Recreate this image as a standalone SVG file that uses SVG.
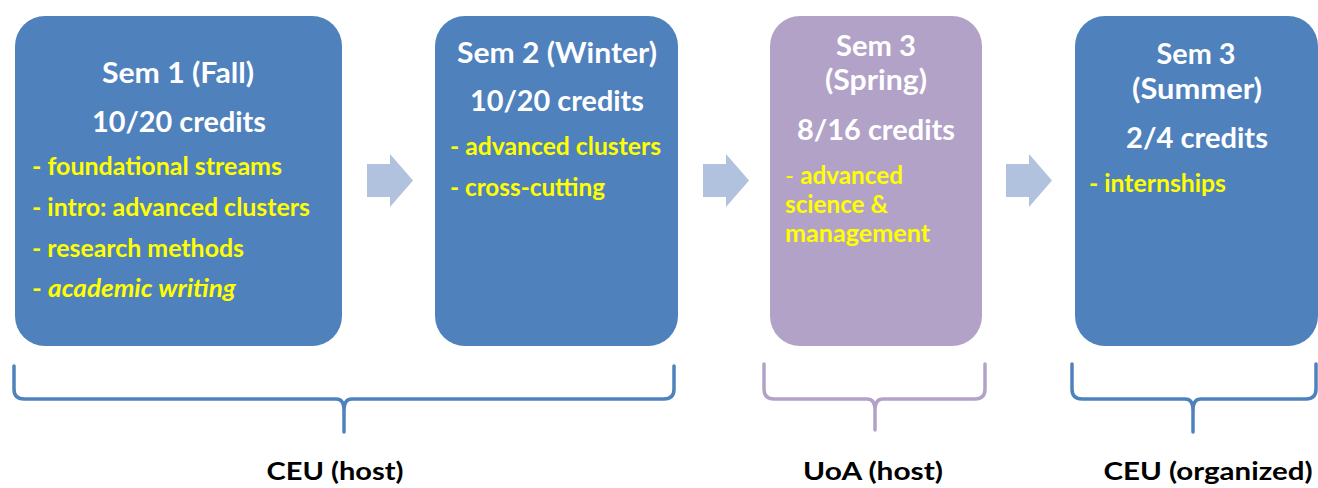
<svg xmlns="http://www.w3.org/2000/svg" width="1318" height="488" viewBox="0 0 1318 488">
<defs>
<style>
.box{fill:#4F81BD}
.boxp{fill:#B3A2C7}
.arr{fill:#B0C2DE}
text{font-family:Lato,"Open Sans","Liberation Sans",sans-serif;font-weight:bold}
.t{fill:#FFFFFF;font-size:28px;text-anchor:middle}
.i{fill:#FFFF00;font-size:24px}
.lbl{fill:#000000;font-size:24px;text-anchor:middle}
.br{fill:none;stroke:#4F81BD;stroke-width:3.5;stroke-linecap:round;stroke-linejoin:round}
.brp{fill:none;stroke:#B3A2C7;stroke-width:3.5;stroke-linecap:round;stroke-linejoin:round}
</style>
</defs>
<rect width="1318" height="488" fill="#FFFFFF"/>
<g id="sem1">
<rect class="box" x="15" y="16" width="327" height="330" rx="30"/>
<text class="t" x="178" y="83" textLength="152" lengthAdjust="spacingAndGlyphs">Sem 1 (Fall)</text>
<text class="t" x="179" y="132" textLength="174" lengthAdjust="spacingAndGlyphs">10/20 credits</text>
<text class="i" x="32" y="175" textLength="250" lengthAdjust="spacingAndGlyphs">- foundational streams</text>
<text class="i" x="32" y="216" textLength="278" lengthAdjust="spacingAndGlyphs">- intro: advanced clusters</text>
<text class="i" x="32" y="257" textLength="212" lengthAdjust="spacingAndGlyphs">- research methods</text>
<text class="i" x="32" y="297" textLength="204" lengthAdjust="spacingAndGlyphs">- <tspan font-style="italic">academic writing</tspan></text>
</g>
<g id="sem2">
<rect class="box" x="435" y="16" width="243" height="330" rx="30"/>
<text class="t" x="557" y="63" textLength="200" lengthAdjust="spacingAndGlyphs">Sem 2 (Winter)</text>
<text class="t" x="557" y="111" textLength="174" lengthAdjust="spacingAndGlyphs">10/20 credits</text>
<text class="i" x="450" y="155" textLength="211" lengthAdjust="spacingAndGlyphs">- advanced clusters</text>
<text class="i" x="450" y="196" textLength="155" lengthAdjust="spacingAndGlyphs">- cross-cutting</text>
</g>
<g id="sem3spring">
<rect class="boxp" x="770" y="16" width="212" height="330" rx="30"/>
<text class="t" x="876" y="56" textLength="80" lengthAdjust="spacingAndGlyphs">Sem 3</text>
<text class="t" x="876" y="90" textLength="102" lengthAdjust="spacingAndGlyphs">(Spring)</text>
<text class="t" x="876" y="140" textLength="158" lengthAdjust="spacingAndGlyphs">8/16 credits</text>
<text class="i" x="785" y="184" textLength="118" lengthAdjust="spacingAndGlyphs"><tspan font-weight="normal">- </tspan>advanced</text>
<text class="i" x="785" y="213" textLength="103" lengthAdjust="spacingAndGlyphs">science &amp;</text>
<text class="i" x="785" y="242" textLength="145" lengthAdjust="spacingAndGlyphs">management</text>
</g>
<g id="sem3summer">
<rect class="box" x="1075" y="16" width="243" height="330" rx="30"/>
<text class="t" x="1196" y="64" textLength="79" lengthAdjust="spacingAndGlyphs">Sem 3</text>
<text class="t" x="1197" y="99" textLength="130" lengthAdjust="spacingAndGlyphs">(Summer)</text>
<text class="t" x="1197" y="148" textLength="142" lengthAdjust="spacingAndGlyphs">2/4 credits</text>
<text class="i" x="1089" y="192" textLength="137" lengthAdjust="spacingAndGlyphs">- internships</text>
</g>
<g id="connectors">
<polygon class="arr" points="367,164 390,164 390,154 413,180.5 390,207 390,197 367,197"/>
<polygon class="arr" points="703,164 726,164 726,154 749,180.5 726,207 726,197 703,197"/>
<polygon class="arr" points="1006,164 1029,164 1029,154 1052,180.5 1029,207 1029,197 1006,197"/>
</g>
<g id="brace-ceu-host">
<path class="br" d="M14,366 V389 Q14,399 24,399 H336 Q344,399 344,410 V432 M344,410 Q344,399 352,399 H664 Q674,399 674,389 V366"/>
<text class="lbl" x="335" y="480" textLength="137" lengthAdjust="spacingAndGlyphs">CEU (host)</text>
</g>
<g id="brace-uoa-host">
<path class="brp" d="M764,364 V389 Q764,399 774,399 H867 Q875,399 875,410 V430 M875,410 Q875,399 883,399 H975 Q985,399 985,389 V364"/>
<text class="lbl" x="873" y="480" textLength="140" lengthAdjust="spacingAndGlyphs">UoA (host)</text>
</g>
<g id="brace-ceu-organized">
<path class="br" d="M1072,364 V389 Q1072,399 1082,399 H1185 Q1193,399 1193,410 V432 M1193,410 Q1193,399 1201,399 H1306 Q1316,399 1316,389 V364"/>
<text class="lbl" x="1208" y="480" textLength="209" lengthAdjust="spacingAndGlyphs">CEU (organized)</text>
</g>
</svg>
